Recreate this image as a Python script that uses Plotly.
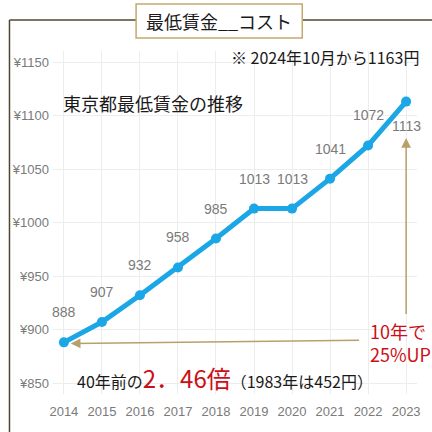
import plotly.graph_objects as go

# Tokyo minimum hourly wage (yen)
years = [2014, 2015, 2016, 2017, 2018, 2019, 2020, 2021, 2022, 2023]
wages = [888, 907, 932, 958, 985, 1013, 1013, 1041, 1072, 1113]
y_ticks = [850, 900, 950, 1000, 1050, 1100, 1150]
y_tick_text = ["¥850", "¥900", "¥950", "¥1000", "¥1050", "¥1100", "¥1150"]

W, H = 432, 432
L, R, T, B = 52, 12, 51, 38
PW, PH = W - L - R, H - T - B

NARROW = "Liberation Sans Narrow, Arial Narrow, Liberation Sans, sans-serif"
JP = "Noto Sans CJK JP, sans-serif"
BLUE = "#1ba7e5"
GOLD = "#b8a06a"
RED = "#cc0f16"


def px(x):
    return (x - L) / PW


def py(y):
    return 1 - (y - T) / PH


fig = go.Figure()
fig.add_trace(go.Scatter(
    x=years, y=wages, mode="lines+markers",
    line=dict(color=BLUE, width=5),
    marker=dict(color=BLUE, size=10),
    hoverinfo="skip", showlegend=False,
))

# value labels above each point (the last one sits below)
for yr, w in zip(years, wages):
    last = yr == years[-1]
    fig.add_annotation(
        x=yr, y=w, text=str(w), showarrow=False,
        xanchor="center", yanchor="middle",
        yshift=-24 if last else 30,
        font=dict(family=NARROW, size=14, color="#7a7a7a"),
    )

# arrows: 10-year span back to 2014 and up to 2023
fig.add_annotation(
    x=years[0] + 0.18, y=wages[0] - 1, ax=years[0] + 7.8, ay=wages[0] + 2,
    xref="x", yref="y", axref="x", ayref="y",
    showarrow=True, arrowhead=2, arrowsize=1.3, arrowwidth=1.5, arrowcolor=GOLD, text="",
)
fig.add_annotation(
    x=years[-1], y=1079, ax=years[-1], ay=913,
    xref="x", yref="y", axref="x", ayref="y",
    showarrow=True, arrowhead=2, arrowsize=1.3, arrowwidth=1.5, arrowcolor=GOLD, text="",
)

texts = [
    dict(x=230, y=57, text="※ 2024年10月から1163円", size=16, color="#1a1a1a", xanchor="left"),
    dict(x=60, y=103, text="東京都最低賃金の推移", size=18, color="#1a1a1a", xanchor="left"),
    dict(x=370, y=342, text="10年で<br>25%UP", size=18, color=RED, xanchor="left"),
]
for t in texts:
    fig.add_annotation(
        x=px(t["x"]), y=py(t["y"]), xref="paper", yref="paper",
        text=t["text"], showarrow=False, xanchor=t["xanchor"], yanchor="middle",
        align="left", font=dict(family=JP, size=t["size"], color=t["color"]),
    )

fig.add_annotation(
    x=px(74), y=py(377), xref="paper", yref="paper", showarrow=False,
    xanchor="left", yanchor="middle",
    text=("40年前の<span style='font-size:24px;color:%s'>2．46倍</span>"
          "（1983年は452円）") % RED,
    font=dict(family=JP, size=16, color="#1a1a1a"),
)

# outer frame and title box
shapes = [
    dict(type="line", x0=px(8), x1=px(8), y0=py(20), y1=py(440), line=dict(color="#54452f", width=1.5)),
    dict(type="line", x0=px(8), x1=px(136), y0=py(20), y1=py(20), line=dict(color="#54452f", width=1.5)),
    dict(type="line", x0=px(304), x1=px(440), y0=py(20), y1=py(20), line=dict(color="#54452f", width=1.5)),
    dict(type="rect", x0=px(136), x1=px(304), y0=py(4), y1=py(38),
         line=dict(color="#c2a96e", width=1.5), fillcolor="white"),
]
for s in shapes:
    s.update(xref="paper", yref="paper", layer="above")
fig.update_layout(shapes=shapes)

fig.add_annotation(
    x=px(220), y=py(21), xref="paper", yref="paper", showarrow=False,
    xanchor="center", yanchor="middle", text="最低賃金__コスト",
    font=dict(family=JP, size=18, color="#1a1a1a"),
)

x0 = 2014 - 11 / 38.444
x1 = 2014 + (W - R - 63) / 38.444
ppu = 321 / 300
y1 = 850 + (383 - T) / ppu
y0 = 850 - (H - B - 383) / ppu

fig.update_layout(
    width=W, height=H, autosize=False,
    margin=dict(l=L, r=R, t=T, b=B, pad=0),
    paper_bgcolor="white", plot_bgcolor="white",
    xaxis=dict(
        range=[x0, x1], tickvals=years, ticktext=[str(y) for y in years],
        showgrid=True, gridcolor="#ededed", gridwidth=1, zeroline=False,
        showline=False, ticks="", ticklabelstandoff=8,
        tickfont=dict(family=NARROW, size=13, color="#7a7a7a"),
    ),
    yaxis=dict(
        range=[y0, y1], tickvals=y_ticks, ticktext=y_tick_text,
        showgrid=True, gridcolor="#ededed", gridwidth=1, zeroline=False,
        showline=False, ticks="", ticklabelstandoff=3,
        tickfont=dict(family=NARROW, size=13, color="#7a7a7a"),
    ),
)

fig.write_html("out.html")
